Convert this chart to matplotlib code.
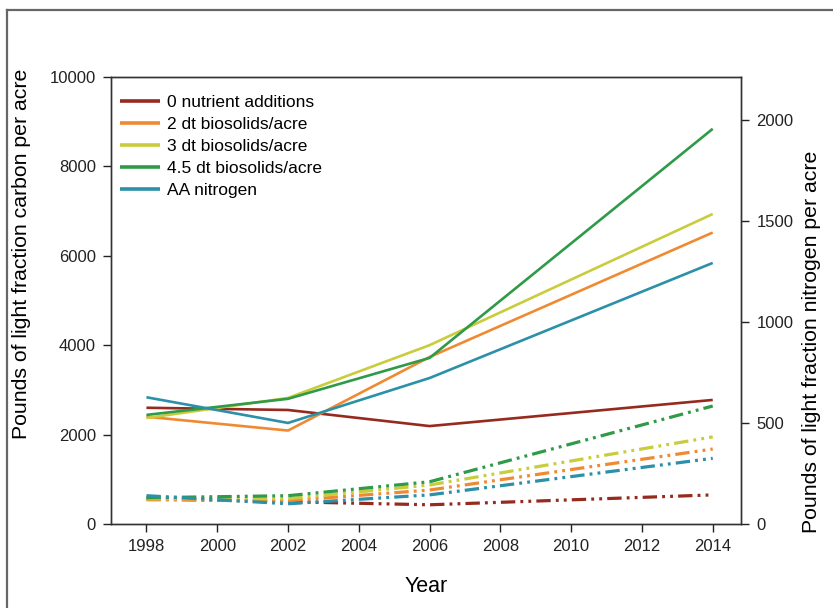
import matplotlib.pyplot as plt
from matplotlib.lines import Line2D

plt.rcParams['font.family'] = ['Liberation Sans', 'DejaVu Sans']

years = [1998, 2002, 2006, 2014]
labels = ['0 nutrient additions', '2 dt biosolids/acre', '3 dt biosolids/acre',
          '4.5 dt biosolids/acre', 'AA nitrogen']
colors = ['#962a1e', '#f08a32', '#c9cc3c', '#2f9a48', '#2b90a8']

# light fraction carbon (left axis)
carbon_0 = [2600, 2550, 2190, 2775]
carbon_2 = [2400, 2090, 3735, 6520]
carbon_3 = [2370, 2820, 4000, 6935]
carbon_45 = [2440, 2800, 3715, 8840]
carbon_aa = [2835, 2260, 3265, 5840]

# light fraction nitrogen (right axis)
nitro_0 = [125, 110, 95, 144]
nitro_2 = [120, 115, 168, 371]
nitro_3 = [125, 125, 193, 431]
nitro_45 = [130, 140, 209, 584]
nitro_aa = [140, 100, 144, 325]

carbon = [carbon_0, carbon_2, carbon_3, carbon_45, carbon_aa]
nitro = [nitro_0, nitro_2, nitro_3, nitro_45, nitro_aa]

fig = plt.figure(figsize=(8.33, 6.08), dpi=100)
ax = fig.add_axes([0.1333, 0.1382, 0.7563, 0.7352])
ax2 = ax.twinx()

for vals, lab, c in zip(carbon, labels, colors):
    ax.plot(years, vals, color=c, lw=1.9, label=lab, solid_capstyle='butt')

for vals, c in zip(nitro, colors):
    ax2.plot(years, vals, color=c, lw=2.3,
             linestyle=(0, (4.5, 1.6, 0.9, 1.6, 0.9, 1.6)))

ax.set_xlim(1997, 2014.8)
ax.set_ylim(0, 10000)
ax2.set_ylim(0, 2213)
ax.set_xticks(range(1998, 2015, 2))
ax.set_yticks(range(0, 10001, 2000))
ax2.set_yticks([0, 500, 1000, 1500, 2000])

for a in (ax, ax2):
    a.tick_params(direction='out', length=6, width=1, labelsize=12, colors='#222222', pad=5)
    for s in a.spines.values():
        s.set_color('#333333')
        s.set_linewidth(1)

ax.set_xlabel('Year', fontsize=15.5, labelpad=16)
ax.set_ylabel('Pounds of light fraction carbon per acre', fontsize=15.3)
ax.yaxis.set_label_coords(-0.127, 0.604)
ax2.set_ylabel('Pounds of light fraction nitrogen per acre', fontsize=15.3)
ax2.yaxis.set_label_coords(1.097, 0.407)

leg = ax.legend(loc='upper left', bbox_to_anchor=(0.0, 1 - 9 / 447), frameon=False,
                fontsize=12.5, handlelength=2.3, labelspacing=0.4,
                borderaxespad=0.2, borderpad=0.3, handletextpad=0.4)
for h in leg.get_lines():
    h.set_linewidth(2.6)

# border frame around the figure
fig.add_artist(Line2D([6.5 / 833, 1], [1 - 9.5 / 608, 1 - 9.5 / 608],
                      transform=fig.transFigure, color='#666666', lw=1.6))
fig.add_artist(Line2D([6.5 / 833, 6.5 / 833], [0, 1 - 9.5 / 608],
                      transform=fig.transFigure, color='#666666', lw=1.6))

fig.savefig('out.png', dpi=100)
